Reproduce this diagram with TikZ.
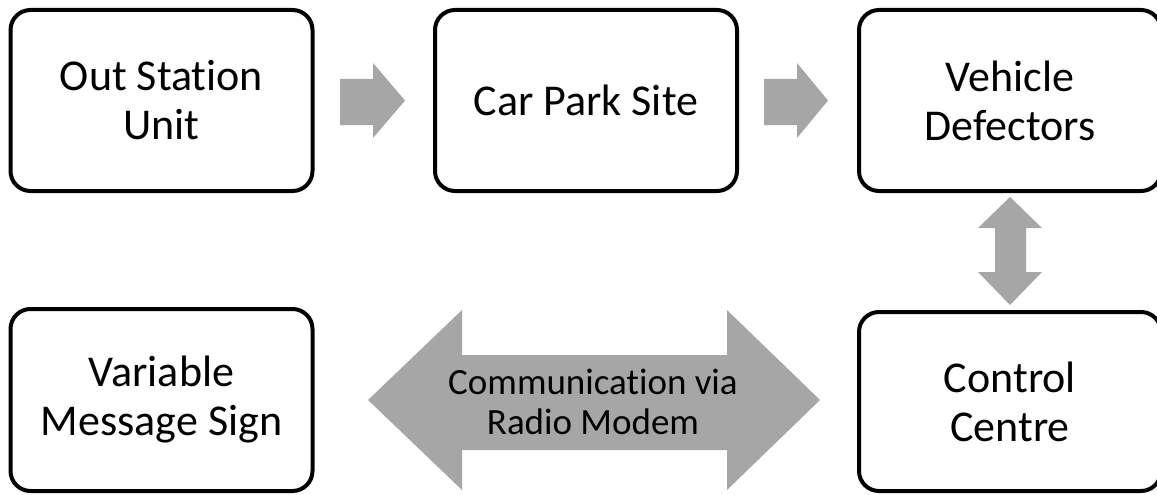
\documentclass[tikz,border=0pt]{standalone}
\usepackage{fontspec}
\setmainfont{Carlito}[Ligatures=CommonOff]
\definecolor{arrowgray}{RGB}{166,166,166}
\tikzset{
  box/.style={draw=black, line width=4pt, rounded corners=20pt, fill=white,
    minimum width=302pt, minimum height=181pt, inner sep=0pt, align=center,
    font=\fontsize{44}{49}\selectfont},
  blockarrow/.style={fill=arrowgray, draw=none},
  arrowtext/.style={inner sep=0pt, font=\fontsize{37}{37}\selectfont}
}
\begin{document}
\begin{tikzpicture}[x=1pt,y=-1pt]
\useasboundingbox (0,0) rectangle (1157,495);
\clip (0,0) rectangle (1157,495);
\node[box] (osu) at (161.5,100.5) {Out Station\\Unit};
\node[box] (cps) at (586,100.5) {Car Park Site};
\node[box] (vd) at (1010,100.5) {Vehicle\\Defectors};
\node[box, minimum height=182pt] (vms) at (161.5,400) {Variable\\Message Sign};
\node[box, minimum height=179pt] (cc) at (1010,401.5) {Control\\Centre};
% arrow 1
\fill[blockarrow] (340,79) -- (373,79) -- (373,63) -- (405,100.5) -- (373,138) -- (373,125) -- (340,125) -- cycle;
% arrow 2
\fill[blockarrow] (764,79) -- (797,79) -- (797,63) -- (828,100.5) -- (797,138) -- (797,125) -- (764,125) -- cycle;
% vertical double arrow
\fill[blockarrow] (1010,197) -- (1042,228) -- (1026,228) -- (1026,272) -- (1042,272) -- (1010,305) -- (978,272) -- (995,272) -- (995,228) -- (978,228) -- cycle;
% big double arrow
\fill[blockarrow] (368,400) -- (462,310) -- (462,355) -- (727,355) -- (727,310) -- (820,400) -- (727,490) -- (727,450) -- (462,450) -- (462,490) -- cycle;
\node[arrowtext, anchor=base] (t1) at (593,394) {Communication via};
\node[arrowtext, anchor=base] (t2) at (593,434) {Radio Modem};
\end{tikzpicture}
\end{document}
